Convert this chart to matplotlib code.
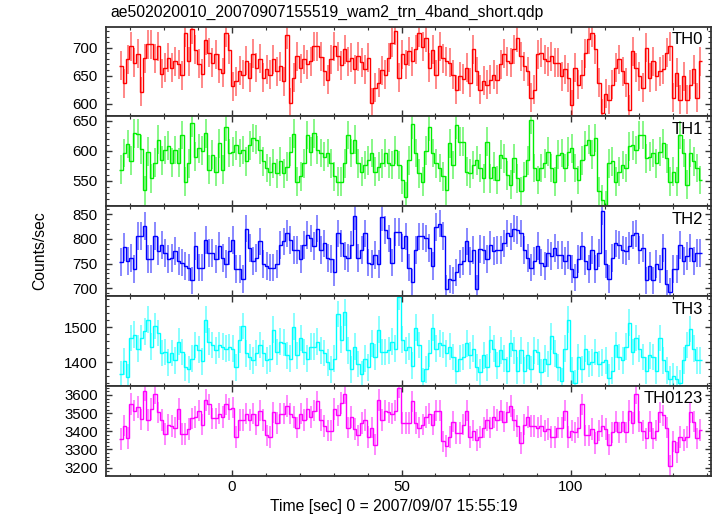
import numpy as np
import matplotlib
matplotlib.use("Agg")
import matplotlib.pyplot as plt
from matplotlib.ticker import MultipleLocator

plt.rcParams["font.family"] = ["Liberation Sans", "DejaVu Sans"]

TITLE = "ae502020010_20070907155519_wam2_trn_4band_short.qdp"
X_LABEL = "Time [sec] 0 = 2007/09/07 15:55:19"
Y_LABEL = "Counts/sec"

# 1 s bins, left edge of the first bin
T_START = -33.3
BIN = 1.0

bands = ["TH0", "TH1", "TH2", "TH3", "TH0123"]

th0 = [668, 636, 679, 703, 673, 689, 621, 681, 706, 706, 680, 703,
       653, 664, 682, 664, 676, 670, 651, 727, 676, 733, 696, 671, 653, 713, 691, 673,
       688, 662, 655, 727, 696, 631, 640, 659, 652, 677, 646, 689, 664, 680, 646, 661,
       652, 679, 658, 667, 640, 723, 601, 646, 685, 663, 679, 670, 676, 703, 703, 684,
       658, 643, 679, 703, 685, 669, 697, 676, 682, 661, 685, 674, 661, 682, 601, 628,
       637, 660, 652, 682, 709, 730, 646, 688, 670, 694, 676, 697, 727, 702, 718, 664,
       696, 652, 703, 681, 676, 673, 652, 625, 649, 644, 664, 637, 697, 658, 625, 641,
       634, 643, 652, 643, 670, 689, 676, 673, 697, 718, 685, 667, 658, 610, 625, 688,
       691, 679, 676, 685, 673, 673, 649, 661, 646, 598, 664, 634, 652, 690, 715, 727,
       697, 637, 583, 618, 607, 634, 664, 679, 658, 637, 589, 694, 664, 649, 628, 700,
       646, 676, 649, 658, 661, 691, 703, 610, 655, 607, 649, 607, 634, 661, 610, 676]

th1 = [568, 596, 611, 583, 629, 628, 602, 534, 598, 554,
       580, 618, 584, 601, 608, 580, 601, 580, 626, 548,
       579, 646, 590, 604, 600, 629, 568, 593, 565, 612,
       568, 640, 596, 598, 609, 596, 601, 582, 609, 621,
       618, 601, 582, 571, 565, 579, 562, 582, 562, 573,
       598, 628, 548, 557, 579, 626, 598, 629, 601, 596,
       590, 596, 579, 557, 548, 548, 579, 626, 596, 618,
       579, 565, 576, 584, 596, 565, 573, 579, 596, 579,
       576, 601, 576, 551, 523, 584, 644, 596, 562, 548,
       600, 640, 596, 579, 571, 557, 534, 612, 576, 643,
       615, 615, 565, 562, 576, 584, 571, 554, 615, 554,
       573, 551, 593, 587, 559, 543, 587, 554, 532, 557,
       584, 651, 571, 551, 571, 579, 598, 571, 548, 593,
       596, 571, 598, 604, 571, 551, 584, 609, 618, 593,
       621, 532, 518, 509, 579, 582, 548, 565, 576, 571,
       607, 609, 601, 626, 626, 587, 590, 596, 579, 598,
       612, 587, 548, 565, 548, 626, 596, 543, 596, 582,
       571, 551]

th2 = [753, 783, 755, 762, 739, 806, 806, 826, 759, 759,
       806, 775, 788, 772, 759, 762, 775, 755, 752, 745,
       742, 716, 785, 742, 742, 798, 772, 772, 759, 785,
       762, 749, 775, 798, 739, 739, 719, 821, 782, 755,
       762, 795, 749, 745, 742, 742, 749, 788, 795, 811,
       798, 778, 778, 759, 788, 808, 801, 785, 821, 778,
       791, 762, 759, 732, 811, 791, 765, 762, 788, 847,
       762, 778, 811, 752, 749, 768, 749, 844, 818, 801,
       752, 814, 814, 782, 805, 742, 712, 778, 805, 805,
       801, 782, 745, 824, 831, 806, 699, 719, 716, 732,
       749, 755, 795, 755, 778, 699, 780, 778, 759, 788,
       775, 778, 778, 791, 811, 805, 821, 818, 811, 778,
       762, 742, 755, 785, 752, 745, 772, 765, 782, 768,
       768, 755, 768, 739, 722, 759, 785, 755, 739, 778,
       739, 772, 857, 749, 719, 762, 791, 788, 778, 775,
       785, 808, 811, 778, 782, 716, 745, 716, 749, 739,
       782, 709, 693, 739, 739, 788, 755, 765, 782, 755,
       772, 772]

th3 = [1366, 1403, 1358, 1469, 1478, 1439, 1469, 1488, 1521, 1444,
       1503, 1483, 1426, 1429, 1400, 1426, 1405, 1459, 1429, 1385,
       1380, 1410, 1449, 1436, 1403, 1521, 1459, 1449, 1434, 1449,
       1444, 1439, 1442, 1439, 1385, 1464, 1503, 1425, 1415, 1405,
       1426, 1449, 1425, 1405, 1410, 1493, 1429, 1459, 1456, 1420,
       1410, 1501, 1420, 1469, 1429, 1410, 1444, 1444, 1459, 1434,
       1426, 1400, 1380, 1410, 1537, 1464, 1542, 1434, 1380, 1444,
       1395, 1366, 1410, 1385, 1454, 1415, 1493, 1429, 1429, 1434,
       1459, 1439, 1586, 1464, 1434, 1444, 1390, 1498, 1449, 1346,
       1380, 1425, 1498, 1439, 1454, 1449, 1425, 1444, 1415, 1376,
       1410, 1415, 1454, 1420, 1439, 1385, 1371, 1420, 1385, 1464,
       1439, 1390, 1434, 1410, 1376, 1454, 1434, 1376, 1434, 1376,
       1420, 1380, 1434, 1429, 1371, 1410, 1395, 1474, 1425, 1385,
       1346, 1439, 1521, 1376, 1341, 1415, 1380, 1439, 1395, 1400,
       1429, 1395, 1400, 1405, 1356, 1376, 1449, 1415, 1405, 1444,
       1513, 1429, 1469, 1439, 1415, 1376, 1420, 1415, 1376, 1469,
       1405, 1376, 1351, 1361, 1351, 1341, 1405, 1449, 1495, 1439,
       1405, 1405]

th0123 = [3357, 3432, 3364, 3551, 3514, 3534, 3466, 3624, 3463, 3522,
          3607, 3505, 3463, 3386, 3437, 3429, 3420, 3522, 3386, 3386,
          3412, 3471, 3480, 3514, 3437, 3573, 3548, 3471, 3471, 3497,
          3480, 3548, 3522, 3531, 3369, 3463, 3463, 3497, 3463, 3497,
          3437, 3514, 3463, 3378, 3369, 3505, 3446, 3497, 3497, 3539,
          3497, 3480, 3420, 3497, 3463, 3522, 3480, 3514, 3565, 3463,
          3429, 3403, 3403, 3522, 3488, 3556, 3607, 3420, 3480, 3412,
          3378, 3446, 3463, 3369, 3420, 3327, 3573, 3463, 3514, 3505,
          3497, 3514, 3641, 3446, 3446, 3446, 3565, 3446, 3420, 3437,
          3480, 3497, 3437, 3514, 3514, 3344, 3318, 3369, 3454, 3391,
          3391, 3437, 3514, 3369, 3403, 3352, 3369, 3420, 3463, 3420,
          3480, 3463, 3514, 3454, 3505, 3539, 3463, 3429, 3335, 3437,
          3480, 3429, 3429, 3420, 3429, 3403, 3412, 3369, 3369, 3420,
          3420, 3514, 3369, 3403, 3395, 3420, 3548, 3378, 3378, 3412,
          3335, 3403, 3429, 3412, 3327, 3395, 3454, 3395, 3454, 3395,
          3514, 3446, 3607, 3454, 3403, 3361, 3454, 3361, 3403, 3505,
          3488, 3420, 3208, 3344, 3284, 3369, 3352, 3369, 3505, 3454,
          3361, 3408]

# typical 1-sigma error per bin
errors = [26, 24, 28, 38, 59]

series = [th0, th1, th2, th3, th0123]
colors = ["#ff0000", "#00ee00", "#0000ff", "#00ffff", "#ff00ff"]
ylims = [(577, 738), (507, 657), (684, 866), (1332, 1588), (3154, 3649)]
ymajor = [50, 50, 50, 100, 100]
yminor = [10, 10, 10, 20, 20]

W, H = 717, 516
fig = plt.figure(figsize=(W / 100, H / 100), dpi=100)

left, right = 106 / W, 711 / W
top_px, panel_px = 26.5, 89.9

for i, (name, vals, err, col) in enumerate(zip(bands, series, errors, colors)):
    y0 = 1 - (top_px + (i + 1) * panel_px) / H
    ax = fig.add_axes([left, y0, right - left, panel_px / H])
    vals = np.array(vals, dtype=float)
    edges = T_START + BIN * np.arange(len(vals) + 1)
    mids = edges[:-1] + BIN / 2

    ax.vlines(mids, vals - err, vals + err, color=col, lw=1.3, alpha=0.5)
    ax.stairs(vals, edges, baseline=None, color=col, lw=1.0)

    ax.set_xlim(-37.2, 141.3)
    ax.set_ylim(*ylims[i])
    ax.xaxis.set_major_locator(MultipleLocator(50))
    ax.xaxis.set_minor_locator(MultipleLocator(10))
    ax.yaxis.set_major_locator(MultipleLocator(ymajor[i]))
    ax.yaxis.set_minor_locator(MultipleLocator(yminor[i]))
    ax.tick_params(which="both", direction="in", top=True, right=True,
                   labelsize=10.8, colors="#333333", labelcolor="black")
    ax.tick_params(which="major", length=4.5, width=1.0)
    ax.tick_params(which="minor", length=2.2, width=0.8)
    ax.tick_params(axis="y", which="major", pad=6)
    ax.tick_params(axis="x", which="major", pad=3)
    if i < len(bands) - 1:
        ax.tick_params(labelbottom=False)
    for sp in ax.spines.values():
        sp.set_linewidth(1.3)
        sp.set_color("#333333")

    ax.text(0.987, 0.94, name, transform=ax.transAxes, ha="right", va="top",
            fontsize=12)

fig.text(110 / W, 1 - 12 / H, TITLE, ha="left", va="center", fontsize=11.3)
fig.text(394 / W, 1 - 507 / H, X_LABEL, ha="center", va="center", fontsize=11.3)
fig.text(40 / W, 1 - 251 / H, Y_LABEL, ha="center", va="center",
         rotation=90, fontsize=11.3)

fig.savefig("out.png", dpi=100)
